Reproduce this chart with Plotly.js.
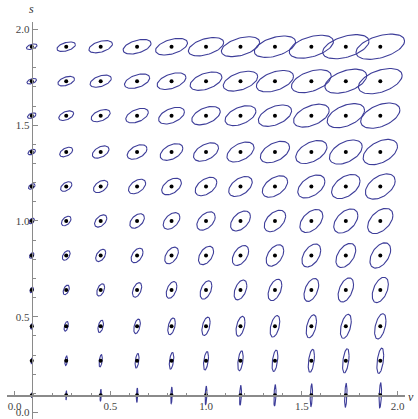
<!DOCTYPE html>
<html>
<head>
<meta charset="utf-8">
<script src="https://cdn.plot.ly/plotly-3.0.1.min.js"></script>
<style>
  body { margin: 0; background: #fff; }
</style>
</head>
<body>
<div id="chart"></div>
<script>
// Grid of centres (v across, s up)
const vGrid = [0.09, 0.27, 0.45, 0.64, 0.82, 1.00, 1.18, 1.36, 1.55, 1.73, 1.91];
const sGrid = [0.09, 0.27, 0.45, 0.64, 0.82, 1.00, 1.18, 1.36, 1.55, 1.73, 1.91];
// Vertical half size of the ellipses, one per column (data units)
const halfHeight = [0.0144, 0.025, 0.032, 0.038, 0.0435, 0.048, 0.052, 0.056, 0.060, 0.063, 0.066];
// Width / height ratio of the ellipses, one per row
const widthRatio = [0.10, 0.27, 0.45, 0.64, 0.82, 1.00, 1.18, 1.36, 1.55, 1.73, 1.92];
// Correlation that tilts every ellipse
const tilt = 0.45;

const tickVals = [0.0, 0.5, 1.0, 1.5, 2.0];
const axisOrigin = [0.09, 0.09];

const xRange = [-0.0392, 2.039];
const yRange = [-0.0339, 2.039];

const serif = '"Liberation Serif", "Times New Roman", Times, serif';

function buildTraces() {
  const ex = [];
  const ey = [];
  const dx = [];
  const dy = [];
  const steps = 72;
  const q = Math.sqrt(1 - tilt * tilt);
  for (let r = 0; r < sGrid.length; r += 1) {
    for (let c = 0; c < vGrid.length; c += 1) {
      const v = vGrid[c];
      const s = sGrid[r];
      const hh = halfHeight[c];
      const hw = hh * widthRatio[r];
      for (let k = 0; k <= steps; k += 1) {
        const t = 2 * Math.PI * k / steps;
        ex.push(v + hw * Math.cos(t));
        ey.push(s + hh * (tilt * Math.cos(t) + q * Math.sin(t)));
      }
      ex.push(null);
      ey.push(null);
      dx.push(v);
      dy.push(s);
    }
  }
  const ellipses = {
    x: ex,
    y: ey,
    type: 'scatter',
    mode: 'lines',
    line: { color: '#3d3d99', width: 1.1 },
    hoverinfo: 'skip',
    showlegend: false
  };
  const centres = {
    x: dx,
    y: dy,
    type: 'scatter',
    mode: 'markers',
    marker: { color: '#000', size: 4 },
    showlegend: false
  };
  return [ellipses, centres];
}

const axisStyle = {
  showline: true,
  linecolor: '#8a8a8a',
  linewidth: 1.3,
  showgrid: false,
  zeroline: false,
  tickmode: 'array',
  tickvals: tickVals,
  tickformat: '.1f',
  ticks: 'inside',
  ticklen: 4.5,
  tickwidth: 1,
  tickcolor: '#8a8a8a',
  tickfont: { family: serif, size: 11, color: '#444' },
  minor: { ticks: 'inside', dtick: 0.1, tick0: 0, ticklen: 2.5, tickwidth: 1, tickcolor: '#8a8a8a' },
  anchor: 'free',
  fixedrange: true
};

const layout = {
  width: 418,
  height: 419,
  margin: { l: 7, r: 13, t: 22, b: 0 },
  paper_bgcolor: '#fff',
  plot_bgcolor: '#fff',
  xaxis: Object.assign({}, axisStyle, {
    range: xRange,
    position: (axisOrigin[1] - yRange[0]) / (yRange[1] - yRange[0])
  }),
  yaxis: Object.assign({}, axisStyle, {
    range: yRange,
    position: (axisOrigin[0] - xRange[0]) / (xRange[1] - xRange[0])
  }),
  annotations: [
    {
      text: '<i>s</i>', xref: 'x', yref: 'paper', x: axisOrigin[0], y: 1,
      yanchor: 'bottom', yshift: 4, showarrow: false,
      font: { family: serif, size: 12, color: '#333' }
    },
    {
      text: '<i>v</i>', xref: 'paper', yref: 'y', x: 1, y: axisOrigin[1],
      xanchor: 'left', xshift: 1, yshift: -2, showarrow: false,
      font: { family: serif, size: 12, color: '#333' }
    }
  ]
};

window.Plotly.newPlot('chart', buildTraces(), layout, { displayModeBar: false, staticPlot: true });
</script>
</body>
</html>
